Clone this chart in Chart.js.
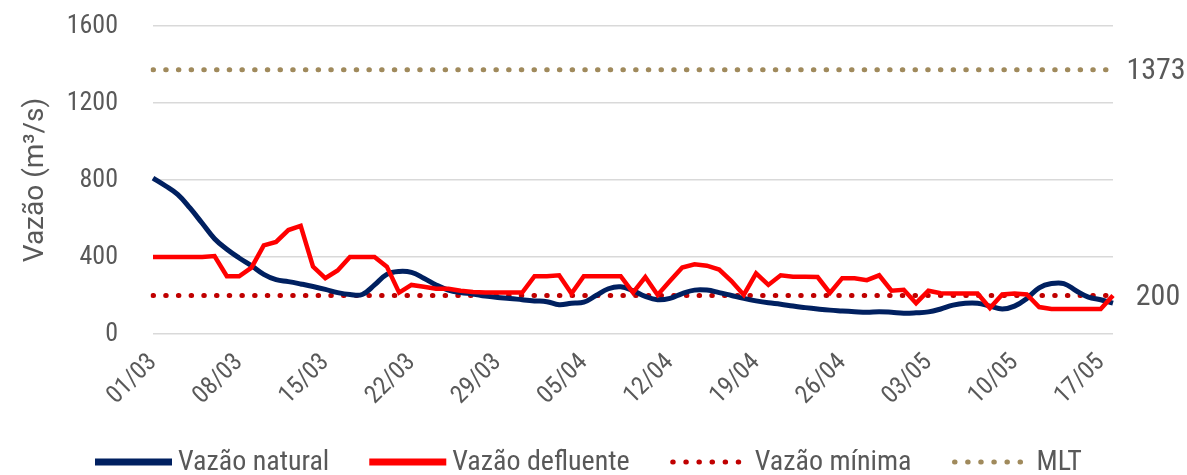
<!DOCTYPE html>
<html><head><meta charset="utf-8">
<script src="https://cdn.jsdelivr.net/npm/chart.js@4.4.0/dist/chart.umd.min.js"></script>
<style>html,body{margin:0;padding:0;background:#fff;}#wrap{width:1187px;height:475px;}</style>
</head><body><div id="wrap"><canvas id="c" width="1187" height="475"></canvas></div>
<script>
const FONT = "Roboto, 'Open Sans', sans-serif";
const STRETCH = 'condensed';

const dates = [
 '01/03','02/03','03/03','04/03','05/03','06/03','07/03','08/03','09/03','10/03',
 '11/03','12/03','13/03','14/03','15/03','16/03','17/03','18/03','19/03','20/03',
 '21/03','22/03','23/03','24/03','25/03','26/03','27/03','28/03','29/03','30/03',
 '31/03','01/04','02/04','03/04','04/04','05/04','06/04','07/04','08/04','09/04',
 '10/04','11/04','12/04','13/04','14/04','15/04','16/04','17/04','18/04','19/04',
 '20/04','21/04','22/04','23/04','24/04','25/04','26/04','27/04','28/04','29/04',
 '30/04','01/05','02/05','03/05','04/05','05/05','06/05','07/05','08/05','09/05',
 '10/05','11/05','12/05','13/05','14/05','15/05','16/05','17/05','18/05'
];
const tickLabels = ['01/03','08/03','15/03','22/03','29/03','05/04','12/04','19/04','26/04','03/05','10/05','17/05'];

const vazaoNatural = [
 810,770,725,655,575,495,440,395,355,310,
 282,272,260,247,232,215,205,205,255,310,
 325,320,290,255,228,215,208,197,190,185,
 178,172,168,152,160,165,200,235,245,225,
 195,178,185,210,228,228,215,200,185,172,
 162,155,145,137,130,124,120,116,113,116,
 113,108,110,115,130,150,160,160,145,130,
 145,185,240,262,262,225,192,178,160
];
const vazaoDefluente = [
 400,400,400,400,400,405,300,300,345,460,
 478,540,562,350,290,330,400,400,400,350,
 215,255,245,235,235,225,218,215,215,215,
 215,300,300,305,210,300,300,300,300,215,
 296,203,275,345,362,355,335,275,203,315,
 255,305,298,298,296,213,290,290,280,305,
 225,230,160,225,212,210,210,210,135,205,
 210,205,140,130,130,130,130,130,200
];
const vazaoMinima = 200;
const mlt = 1373;
const seriesNames = ['Vazão natural','Vazão defluente','Vazão mínima','MLT'];
const seriesColors = ['#002060','#FF0000','#C00000','#A08A5C'];
const yTitle = 'Vazão (m³/s)';

const first = dates[0], last = dates[dates.length - 1];
const dotted = {borderWidth: 5, borderDash: [0.5, 12.2], borderCapStyle: 'round', pointRadius: 0, fill: false};
const f = size => ({family: FONT, size: size, weight: STRETCH});
const fstr = size => STRETCH + ' ' + size + 'px ' + FONT;

const extras = {
  id: 'extras',
  afterDatasetsDraw(chart) {
    const {ctx, scales: {x, y}} = chart;
    const lastX = x.getPixelForValue(dates.length - 1);
    ctx.save();
    ctx.fillStyle = '#595959';
    ctx.font = fstr(30);
    ctx.textAlign = 'center';
    ctx.textBaseline = 'middle';
    ctx.fillText(String(mlt), lastX + 43, y.getPixelForValue(mlt) + 2);
    ctx.fillText(String(vazaoMinima), lastX + 45, y.getPixelForValue(vazaoMinima) + 2);

    // legend
    const ly = 462;
    let lx = 95;
    ctx.font = fstr(28);
    ctx.textAlign = 'left';
    seriesNames.forEach((name, i) => {
      ctx.save();
      ctx.strokeStyle = seriesColors[i];
      ctx.beginPath();
      if (i < 2) {
        ctx.lineWidth = 7;
        ctx.lineCap = 'butt';
        ctx.moveTo(lx, ly); ctx.lineTo(lx + 77, ly);
      } else {
        ctx.lineWidth = 5;
        ctx.lineCap = 'round';
        ctx.setLineDash([0.5, 12.6]);
        ctx.moveTo(lx + 3, ly); ctx.lineTo(lx + 74, ly);
      }
      ctx.stroke();
      ctx.restore();
      const tx = lx + (i < 2 ? 83 : 85);
      ctx.fillText(name, tx, ly + 1);
      lx = tx + ctx.measureText(name).width + 40;
    });
    ctx.restore();
  }
};

new Chart(document.getElementById('c'), {
  type: 'line',
  data: {
    labels: dates,
    datasets: [
      {label: seriesNames[0], data: vazaoNatural, borderColor: seriesColors[0], borderWidth: 5, tension: 0.4, pointRadius: 0, fill: false, order: 1},
      {label: seriesNames[1], data: vazaoDefluente, borderColor: seriesColors[1], borderWidth: 4.5, tension: 0, pointRadius: 0, fill: false, order: 0},
      Object.assign({label: seriesNames[2], data: [{x: first, y: vazaoMinima}, {x: last, y: vazaoMinima}], borderColor: seriesColors[2], order: 2}, dotted),
      Object.assign({label: seriesNames[3], data: [{x: first, y: mlt}, {x: last, y: mlt}], borderColor: seriesColors[3], order: 3}, dotted)
    ]
  },
  options: {
    responsive: false,
    animation: false,
    devicePixelRatio: 1,
    layout: {padding: {top: 26, right: 74, bottom: 61, left: 0}},
    plugins: {legend: {display: false}, tooltip: {enabled: false}},
    scales: {
      x: {
        type: 'category',
        offset: false,
        grid: {display: false},
        border: {display: false},
        afterFit: s => { s.height = 80; },
        ticks: {
          autoSkip: false, maxRotation: 45, minRotation: 45, padding: 6,
          color: '#595959', font: f(25),
          callback: function (v, i) { const l = dates[i]; return tickLabels.includes(l) ? l : null; }
        }
      },
      y: {
        min: 0, max: 1600,
        afterFit: s => { s.width = 153; s.paddingTop = 0; s.paddingBottom = 0; },
        grid: {color: '#D9D9D9', lineWidth: 1.5, drawTicks: false},
        border: {display: false},
        ticks: {stepSize: 400, padding: 35, color: '#595959', font: f(26), callback: v => String(v)},
        title: {display: true, text: yTitle, color: '#595959', font: {family: FONT, size: 28}, padding: {top: 19, bottom: 0}}
      }
    }
  },
  plugins: [extras]
});
</script>
</body></html>
